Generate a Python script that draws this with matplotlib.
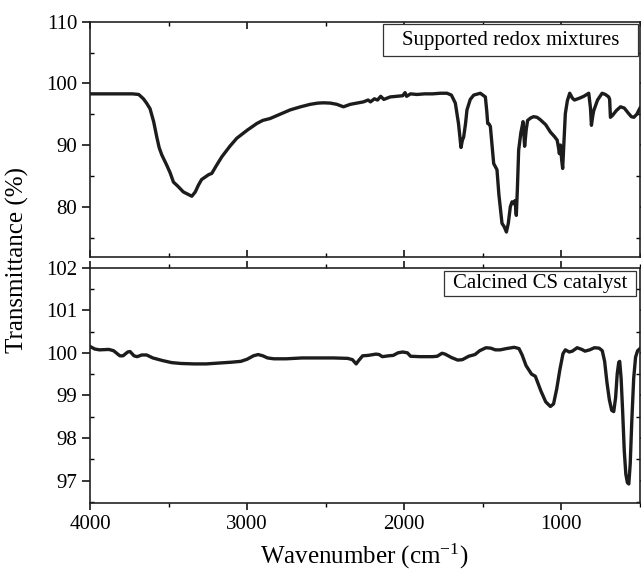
import matplotlib
matplotlib.use("Agg")
import matplotlib.pyplot as plt
from matplotlib.patches import Rectangle
from matplotlib.ticker import MultipleLocator

plt.rcParams['font.family'] = ['Liberation Serif', 'DejaVu Serif']
plt.rcParams['mathtext.fontset'] = 'custom'
plt.rcParams['mathtext.rm'] = 'Liberation Serif'
plt.rcParams['mathtext.it'] = 'Liberation Serif:italic'

# FTIR spectrum, supported redox mixtures (wavenumber cm-1, transmittance %)
top_wn = [4000, 3900, 3800, 3730, 3690, 3660, 3640, 3618, 3595, 3575, 3560, 3543,
          3511, 3490, 3469, 3440, 3406, 3375, 3352, 3330, 3310, 3290, 3268, 3245,
          3225, 3195, 3161, 3110, 3066, 3000, 2938, 2900, 2854, 2790, 2726, 2660,
          2599, 2550, 2514, 2470, 2429, 2387, 2344, 2300, 2260, 2230, 2215, 2190,
          2170, 2150, 2130, 2090, 2050, 2010, 1995, 1985, 1960, 1920, 1870, 1820,
          1770, 1728, 1700, 1675, 1655, 1639, 1630, 1622, 1610, 1601, 1580, 1558,
          1516, 1484, 1475, 1469, 1460, 1452, 1440, 1431, 1410, 1398, 1378, 1365,
          1350, 1338, 1325, 1314, 1304, 1295, 1287, 1280, 1272, 1258, 1244, 1234,
          1224, 1215, 1195, 1177, 1155, 1134, 1100, 1070, 1045, 1027, 1018, 1013,
          1006, 998, 992, 983, 975, 962, 947, 930, 917, 885, 858, 826, 815, 809,
          800, 794, 770, 741, 720, 699, 693, 688, 675, 650, 624, 600, 575, 555,
          539, 520, 500]
top_T = [98.3, 98.3, 98.3, 98.3, 98.2, 97.5, 96.8, 95.9, 93.8, 91.3, 89.6, 88.4,
         86.7, 85.5, 84.0, 83.3, 82.4, 82.0, 81.7, 82.4, 83.5, 84.4, 84.8, 85.2,
         85.4, 86.7, 88.1, 89.8, 91.1, 92.4, 93.5, 94.0, 94.3, 95.0, 95.7, 96.2,
         96.6, 96.8, 96.85, 96.8, 96.6, 96.2, 96.6, 96.8, 97.0, 97.3, 97.0, 97.5,
         97.3, 97.9, 97.4, 97.8, 97.9, 98.0, 98.5, 97.9, 98.3, 98.2, 98.3, 98.3,
         98.4, 98.4, 98.1, 96.8, 93.5, 89.6, 90.8, 91.3, 93.5, 95.7, 97.4, 98.1,
         98.4, 97.8, 95.5, 93.5, 93.4, 93.0, 89.5, 87.0, 86.0, 82.0, 77.3, 76.8,
         75.9, 77.3, 80.0, 80.8, 80.5, 81.0, 78.6, 83.0, 89.2, 92.0, 93.8, 89.8,
         92.5, 94.0, 94.4, 94.6, 94.5, 94.1, 93.3, 92.1, 91.4, 90.8, 89.5, 88.6,
         90.0, 87.5, 86.2, 91.0, 95.1, 97.2, 98.4, 97.6, 97.3, 97.6, 97.9, 98.4,
         96.0, 93.2, 94.8, 95.6, 97.3, 98.4, 98.2, 97.8, 97.4, 94.5, 94.8, 95.6,
         96.2, 96.0, 95.2, 94.6, 94.5, 95.0, 96.0]

# FTIR spectrum, calcined CS catalyst
bot_wn = [4000, 3970, 3940, 3880, 3850, 3810, 3790, 3760, 3745, 3720, 3700, 3670,
          3640, 3600, 3540, 3480, 3420, 3340, 3260, 3180, 3100, 3040, 3000, 2960,
          2930, 2900, 2870, 2830, 2750, 2650, 2550, 2450, 2360, 2330, 2306, 2290,
          2265, 2230, 2180, 2160, 2140, 2100, 2070, 2040, 2010, 1980, 1960, 1900,
          1820, 1790, 1760, 1740, 1700, 1660, 1630, 1590, 1550, 1520, 1480, 1450,
          1420, 1390, 1350, 1300, 1270, 1250, 1225, 1190, 1166, 1130, 1100, 1070,
          1050, 1030, 1010, 990, 975, 950, 930, 900, 870, 850, 820, 790, 760, 740,
          725, 710, 695, 680, 667, 655, 645, 635, 629, 620, 610, 600, 590, 580,
          571, 562, 552, 540, 528, 515, 500]
bot_T = [100.15, 100.09, 100.07, 100.08, 100.05, 99.93, 99.93, 100.02, 100.03, 99.93,
         99.91, 99.95, 99.95, 99.88, 99.82, 99.77, 99.75, 99.74, 99.74, 99.76, 99.78,
         99.80, 99.85, 99.93, 99.96, 99.93, 99.88, 99.86, 99.86, 99.88, 99.88, 99.88,
         99.87, 99.84, 99.74, 99.82, 99.93, 99.94, 99.97, 99.96, 99.91, 99.93, 99.94,
         100.0, 100.02, 100.0, 99.92, 99.91, 99.91, 99.92, 99.99, 99.97, 99.89, 99.83,
         99.84, 99.92, 99.96, 100.05, 100.12, 100.11, 100.07, 100.07, 100.10, 100.13,
         100.10, 99.95, 99.70, 99.50, 99.45, 99.10, 98.85, 98.74, 98.80, 99.15, 99.60,
         99.98, 100.07, 100.02, 100.04, 100.12, 100.08, 100.04, 100.07, 100.12, 100.11,
         100.05, 99.80, 99.30, 98.90, 98.65, 98.62, 98.95, 99.50, 99.78, 99.80, 99.40,
         98.60, 97.70, 97.15, 96.95, 96.92, 97.40, 98.40, 99.40, 99.90, 100.05, 100.10]

top_label = "Supported redox mixtures"
bot_label = "Calcined CS catalyst"

fig = plt.figure(figsize=(6.41, 5.71), dpi=100)
ax1 = fig.add_axes([0.1404, 0.5494, 0.8580, 0.4126])
ax2 = fig.add_axes([0.1404, 0.1196, 0.8580, 0.4116], sharex=ax1)

line_kw = dict(color="#1c1c1c", lw=2.4, solid_joinstyle="round")
ax1.plot(top_wn, top_T, **line_kw)
ax2.plot(bot_wn, bot_T, **line_kw)

ax1.set_xlim(4000, 500)
ax1.set_ylim(71.8, 110)
ax2.set_ylim(96.48, 102)

ax1.yaxis.set_major_locator(MultipleLocator(10))
ax1.yaxis.set_minor_locator(MultipleLocator(5))
ax2.yaxis.set_major_locator(MultipleLocator(1))
ax2.yaxis.set_minor_locator(MultipleLocator(0.5))
ax2.xaxis.set_major_locator(MultipleLocator(1000))
ax2.xaxis.set_minor_locator(MultipleLocator(500))

for ax in (ax1, ax2):
    for s in ax.spines.values():
        s.set_linewidth(1.2)
        s.set_color("#222222")
    ax.tick_params(axis="y", which="major", direction="out", length=6, width=1.1,
                   labelsize=15, pad=3)
    ax.tick_params(axis="y", which="minor", direction="in", length=3, width=1.0)
    ax.tick_params(axis="x", which="major", direction="out", length=5, width=1.1,
                   labelsize=15, pad=4)
    ax.tick_params(axis="x", which="minor", direction="out", length=3, width=1.0)
    ax.tick_params(top=True, right=True, which="both")
ax1.tick_params(axis="x", labelbottom=False)
ax1.tick_params(axis="x", which="both", direction="in")

# label boxes
ax1.add_patch(Rectangle((0.533, 0.856), 0.463, 0.134, transform=ax1.transAxes,
                        facecolor="white", edgecolor="#333333", lw=0.9, zorder=5))
ax1.text(0.7645, 0.921, top_label, transform=ax1.transAxes, ha="center",
         va="center", fontsize=15, zorder=6)
ax2.add_patch(Rectangle((0.6436, 0.8796), 0.3491, 0.1064, transform=ax2.transAxes,
                        facecolor="white", edgecolor="#333333", lw=0.9, zorder=5))
ax2.text(0.818, 0.931, bot_label, transform=ax2.transAxes, ha="center",
         va="center", fontsize=15, zorder=6)

fig.text(0.028, 0.545, "Transmittance (%)", rotation=90, ha="center",
         va="center", fontsize=18)
fig.text(0.568, 0.026, "Wavenumber (cm$^{\\mathregular{-1}}$)", ha="center",
         va="center", fontsize=18)

fig.savefig("out.png", dpi=100)
